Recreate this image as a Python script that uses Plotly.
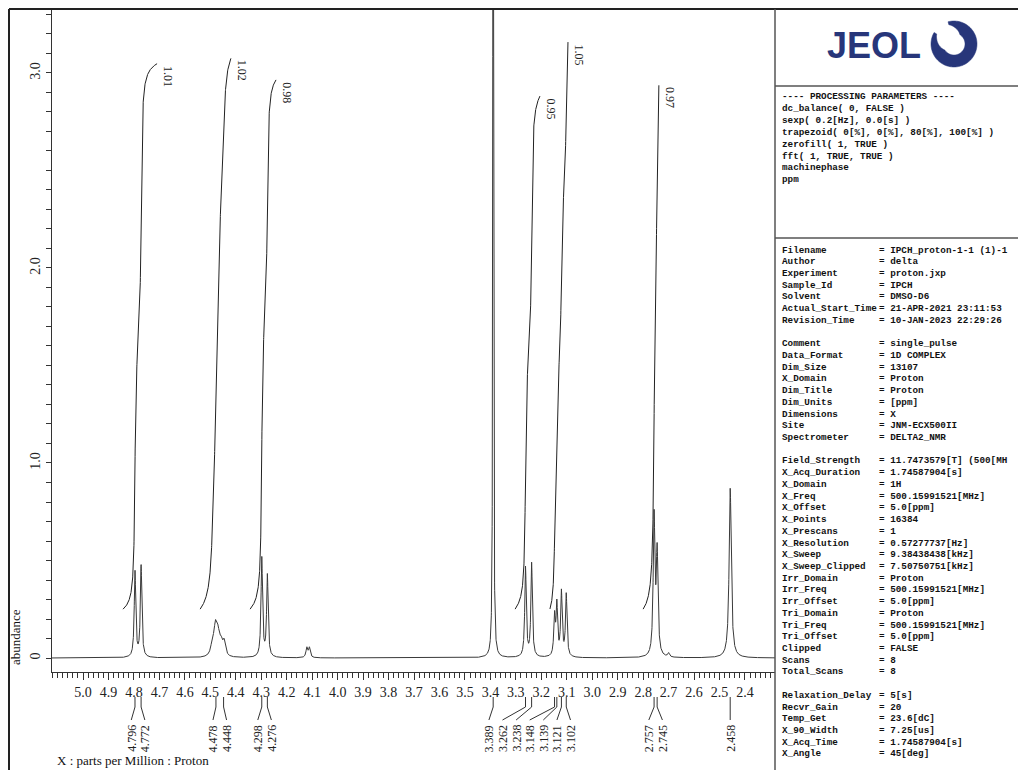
import numpy as np
import plotly.graph_objects as go

# ---------------- data ----------------
peak_ppm = [4.796, 4.772,
            4.492, 4.480, 4.470, 4.458, 4.446,
            4.298, 4.276,
            4.121, 4.111,
            3.389,
            3.262, 3.238,
            3.148, 3.139, 3.121, 3.102,
            2.757, 2.745, 2.700,
            2.458]
peak_height = [0.44, 0.47,
               0.06, 0.14, 0.10, 0.06, 0.07,
               0.51, 0.42,
               0.05, 0.05,
               12.0,
               0.46, 0.48,
               0.20, 0.26, 0.33, 0.32,
               0.71, 0.52, 0.02,
               0.87]
peak_hwhm = [0.0035, 0.0035,
             0.007, 0.007, 0.007, 0.007, 0.006,
             0.0035, 0.0035,
             0.004, 0.004,
             0.001,
             0.0035, 0.0035,
             0.0035, 0.0035, 0.0035, 0.0035,
             0.004, 0.004, 0.004,
             0.005]

label_ppm = [4.796, 4.772, 4.478, 4.448, 4.298, 4.276, 3.389, 3.262, 3.238,
             3.148, 3.139, 3.121, 3.102, 2.757, 2.745, 2.458]

integral_start = [4.843, 4.540, 4.344, 3.303, 3.166, 2.800]
integral_end = [4.709, 4.419, 4.242, 3.205, 3.095, 2.738]
integral_value = [1.01, 1.02, 0.98, 0.95, 1.05, 0.97]
integral_base = 0.25
integral_scale = 2.77

processing_lines = ["---- PROCESSING PARAMETERS ----",
                    "dc_balance( 0, FALSE )",
                    "sexp( 0.2[Hz], 0.0[s] )",
                    "trapezoid( 0[%], 0[%], 80[%], 100[%] )",
                    "zerofill( 1, TRUE )",
                    "fft( 1, TRUE, TRUE )",
                    "machinephase",
                    "ppm"]

param_names = ["Filename", "Author", "Experiment", "Sample_Id", "Solvent",
               "Actual_Start_Time", "Revision_Time", None,
               "Comment", "Data_Format", "Dim_Size", "X_Domain", "Dim_Title",
               "Dim_Units", "Dimensions", "Site", "Spectrometer", None,
               "Field_Strength", "X_Acq_Duration", "X_Domain", "X_Freq",
               "X_Offset", "X_Points", "X_Prescans", "X_Resolution", "X_Sweep",
               "X_Sweep_Clipped", "Irr_Domain", "Irr_Freq", "Irr_Offset",
               "Tri_Domain", "Tri_Freq", "Tri_Offset", "Clipped", "Scans",
               "Total_Scans", None,
               "Relaxation_Delay", "Recvr_Gain", "Temp_Get", "X_90_Width",
               "X_Acq_Time", "X_Angle"]
param_values = ["IPCH_proton-1-1 (1)-1", "delta", "proton.jxp", "IPCH", "DMSO-D6",
                "21-APR-2021 23:11:53", "10-JAN-2023 22:29:26", None,
                "single_pulse", "1D COMPLEX", "13107", "Proton", "Proton",
                "[ppm]", "X", "JNM-ECX500II", "DELTA2_NMR", None,
                "11.7473579[T] (500[MH", "1.74587904[s]", "1H",
                "500.15991521[MHz]", "5.0[ppm]", "16384", "1", "0.57277737[Hz]",
                "9.38438438[kHz]", "7.50750751[kHz]", "Proton",
                "500.15991521[MHz]", "5.0[ppm]", "Proton", "500.15991521[MHz]",
                "5.0[ppm]", "FALSE", "8", "8", None,
                "5[s]", "20", "23.6[dC]", "7.25[us]", "1.74587904[s]", "45[deg]"]

x_ticks = [round(5.0 - 0.1 * i, 1) for i in range(27)]

# ---------------- layout geometry ----------------
W, H = 1018, 770
ML, MR, MT, MB = 52, 243, 10, 98
PW, PH = W - ML - MR, H - MT - MB
X_RANGE = [5.122, 2.282]
Y_RANGE = [-0.0718, 3.323]


def px(X):
    return (X - ML) / PW


def py(Y):
    return (H - MB - Y) / PH


# ---------------- spectrum ----------------
ppm = np.arange(X_RANGE[0], X_RANGE[1], -0.0003)
spec = np.zeros_like(ppm)
for p, h, w in zip(peak_ppm, peak_height, peak_hwhm):
    spec += h * w * w / ((ppm - p) ** 2 + w * w)

fig = go.Figure()
fig.add_trace(go.Scatter(x=ppm, y=spec, mode="lines",
                         line=dict(color="#3a3a3a", width=1),
                         hoverinfo="skip", showlegend=False))

annotations = []
shapes = []

# integrals
serif = "Liberation Serif"
for a, b, v in zip(integral_start, integral_end, integral_value):
    m = (ppm <= a) & (ppm >= b)
    xs = ppm[m]
    cs = np.cumsum(spec[m])
    cs = cs / cs[-1]
    ys = integral_base + v * integral_scale * cs
    fig.add_trace(go.Scatter(x=xs, y=ys, mode="lines",
                             line=dict(color="#222222", width=1),
                             hoverinfo="skip", showlegend=False))
    annotations.append(dict(x=b, y=ys[-1], xref="x", yref="y", text=f"{v:.2f}",
                            textangle=90, xanchor="left", yanchor="top", xshift=2,
                            showarrow=False,
                            font=dict(family=serif, size=12, color="#222")))


# peak labels with spreading
def spread_labels(pos, gap, merge):
    groups = [[p] for p in pos]
    changed = True
    while changed:
        changed = False
        for i in range(len(groups) - 1):
            g1, g2 = groups[i], groups[i + 1]
            c1 = (g1[0] + g1[-1]) / 2
            c2 = (g2[0] + g2[-1]) / 2
            e1 = c1 - (len(g1) - 1) / 2 * gap
            e2 = c2 + (len(g2) - 1) / 2 * gap
            if e1 - e2 < merge:
                groups[i] = g1 + g2
                del groups[i + 1]
                changed = True
                break
    out = []
    for g in groups:
        c = (g[0] + g[-1]) / 2
        n = len(g)
        out += [c + ((n - 1) / 2 - k) * gap for k in range(n)]
    return out


pxppm = PW / (X_RANGE[0] - X_RANGE[1])
lab_pos = spread_labels(label_ppm, 13.6 / pxppm, 23 / pxppm)
for p, lp in zip(label_ppm, lab_pos):
    shapes.append(dict(type="line", xref="x", yref="paper", x0=p, x1=p,
                       y0=py(697), y1=py(707), line=dict(color="#333", width=1)))
    shapes.append(dict(type="line", xref="x", yref="paper", x0=p, x1=lp,
                       y0=py(707), y1=py(720), line=dict(color="#333", width=1)))
    annotations.append(dict(x=lp, y=py(723), xref="x", yref="paper",
                            text=f"{p:.3f}", textangle=-90, xanchor="center",
                            yanchor="top", showarrow=False,
                            font=dict(family=serif, size=12, color="#222")))

# axis captions
annotations.append(dict(x=px(55), y=py(760), xref="paper", yref="paper",
                        text="X : parts per Million : Proton", xanchor="left",
                        yanchor="middle", showarrow=False,
                        font=dict(family=serif, size=13, color="#111")))
annotations.append(dict(x=px(15), y=py(637), xref="paper", yref="paper",
                        text="abundance", textangle=-90, xanchor="center",
                        yanchor="middle", showarrow=False,
                        font=dict(family=serif, size=13, color="#111")))

# frame
frame_col = "#222"
shapes += [
    dict(type="line", xref="paper", yref="paper", x0=px(9), x1=px(W + 5),
         y0=py(9), y1=py(9), line=dict(color=frame_col, width=2)),
    dict(type="line", xref="paper", yref="paper", x0=px(9), x1=px(9),
         y0=py(9), y1=py(H + 5), line=dict(color=frame_col, width=2)),
    dict(type="line", xref="paper", yref="paper", x0=px(775), x1=px(775),
         y0=py(9), y1=py(H + 5), line=dict(color="#555", width=1.5)),
    dict(type="line", xref="paper", yref="paper", x0=px(775), x1=px(W + 5),
         y0=py(86), y1=py(86), line=dict(color="#555", width=1.5)),
    dict(type="line", xref="paper", yref="paper", x0=px(775), x1=px(W + 5),
         y0=py(238), y1=py(238), line=dict(color="#555", width=1.5)),
]

# JEOL logo
navy = "#27367a"
annotations.append(dict(x=px(874), y=py(46), xref="paper", yref="paper",
                        text="<b>JEOL</b>", xanchor="center", yanchor="middle",
                        showarrow=False,
                        font=dict(family="Liberation Sans", size=36, color=navy)))
cx, cy, R = 954, 44, 23
npt = 90
th = np.radians(np.linspace(105, 105 - 315, npt))
prog = np.linspace(0, 1, npt)
taper = np.clip(np.minimum(prog / 0.15, (1 - prog) / 0.2), 0, 1)
rin = R - (3 + 9 * taper)
outer = [(cx + R * np.cos(t), cy - R * np.sin(t)) for t in th]
inner = [(cx + r * np.cos(t), cy - r * np.sin(t)) for t, r in zip(th[::-1], rin[::-1])]
pts = outer + inner
path = "M " + " L ".join(f"{px(X):.5f},{py(Y):.5f}" for X, Y in pts) + " Z"
shapes.append(dict(type="path", xref="paper", yref="paper", path=path,
                   fillcolor=navy, line=dict(color=navy, width=0.5)))

# parameter panel text
mono = dict(family="Liberation Mono", size=9.3, color="#111", weight="bold")
for i, t in enumerate(processing_lines):
    annotations.append(dict(x=px(780), y=py(97 + i * 11.8), xref="paper", yref="paper",
                            text=t, xanchor="left", yanchor="middle",
                            showarrow=False, font=mono))
for i, (n, v) in enumerate(zip(param_names, param_values)):
    if n is None:
        continue
    yy = py(250 + i * 11.72)
    annotations.append(dict(x=px(780), y=yy, xref="paper", yref="paper", text=n,
                            xanchor="left", yanchor="middle", showarrow=False, font=mono))
    annotations.append(dict(x=px(877), y=yy, xref="paper", yref="paper", text="= " + v,
                            xanchor="left", yanchor="middle", showarrow=False, font=mono))

axis_col = "#333"
fig.update_layout(
    width=W, height=H,
    margin=dict(l=ML, r=MR, t=MT, b=MB),
    paper_bgcolor="white", plot_bgcolor="white",
    showlegend=False,
    xaxis=dict(range=X_RANGE, tickvals=x_ticks, ticktext=[f"{v:.1f}" for v in x_ticks],
               ticks="outside", ticklen=7, tickcolor=axis_col, tickwidth=1,
               showline=True, linecolor=axis_col, linewidth=1,
               showgrid=False, zeroline=False,
               minor=dict(dtick=0.02, tick0=0, ticks="outside", ticklen=5,
                          tickcolor=axis_col, showgrid=False),
               tickfont=dict(family=serif, size=14, color="#222")),
    yaxis=dict(range=Y_RANGE, tickvals=[0, 1, 2, 3], ticktext=["0", "1.0", "2.0", "3.0"],
               tickangle=-90, ticks="outside", ticklen=5, tickcolor=axis_col,
               showline=True, linecolor=axis_col, linewidth=1,
               showgrid=False, zeroline=False,
               minor=dict(dtick=0.1, tick0=0, ticks="outside", ticklen=5,
                          tickcolor=axis_col, showgrid=False),
               tickfont=dict(family=serif, size=14, color="#222")),
    annotations=annotations,
    shapes=shapes,
)

fig.write_html("out.html")
